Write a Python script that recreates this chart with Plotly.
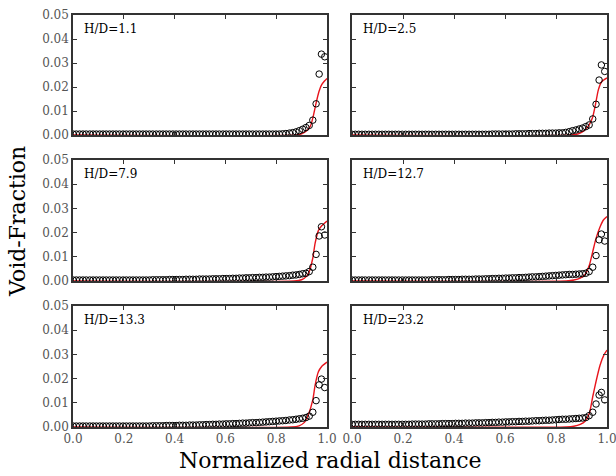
import plotly.graph_objects as go

# ---------------- data ----------------
LABELS = ["H/D=1.1", "H/D=2.5", "H/D=7.9", "H/D=12.7", "H/D=13.3", "H/D=23.2"]

R_DENSE = [0.000, 0.013, 0.026, 0.039, 0.052, 0.066, 0.079, 0.092, 0.105, 0.118, 0.131, 0.144,
           0.157, 0.170, 0.183, 0.197, 0.210, 0.223, 0.236, 0.249, 0.262, 0.275, 0.288, 0.301,
           0.314, 0.328, 0.341, 0.354, 0.367, 0.380, 0.393, 0.406, 0.419, 0.432, 0.445, 0.459,
           0.472, 0.485, 0.498, 0.511, 0.524, 0.537, 0.550, 0.563, 0.576, 0.590, 0.603, 0.616,
           0.629, 0.642, 0.655, 0.668, 0.681, 0.694, 0.707, 0.721, 0.734, 0.747, 0.760, 0.773,
           0.786, 0.799, 0.812, 0.825, 0.838, 0.852, 0.865, 0.878, 0.891, 0.904, 0.917, 0.930]
R_WALL = [0.944, 0.957, 0.969, 0.978, 0.991]
R_EXP = R_DENSE + R_WALL

VF_1_1 = [0.0004, 0.0004, 0.0004, 0.0004, 0.0004, 0.0004, 0.0004, 0.0004, 0.0004, 0.0004, 0.0004, 0.0004,
          0.0004, 0.0004, 0.0004, 0.0004, 0.0004, 0.0004, 0.0004, 0.0004, 0.0004, 0.0004, 0.0004, 0.0004,
          0.0004, 0.0004, 0.0004, 0.0004, 0.0004, 0.0004, 0.0004, 0.0004, 0.0004, 0.0004, 0.0004, 0.0004,
          0.0004, 0.0004, 0.0004, 0.0004, 0.0004, 0.0004, 0.0004, 0.0004, 0.0004, 0.0004, 0.0004, 0.0004,
          0.0004, 0.0004, 0.0004, 0.0004, 0.0004, 0.0004, 0.0004, 0.0004, 0.0004, 0.0004, 0.0004, 0.0004,
          0.0004, 0.0004, 0.0004, 0.0005, 0.0006, 0.0008, 0.0010, 0.0013, 0.0018, 0.0024, 0.0031, 0.0040,
          0.0062, 0.0130, 0.0254, 0.0337, 0.0326]
VF_2_5 = [0.0003, 0.0003, 0.0003, 0.0003, 0.0003, 0.0003, 0.0003, 0.0003, 0.0003, 0.0003, 0.0003, 0.0003,
          0.0003, 0.0003, 0.0003, 0.0003, 0.0003, 0.0003, 0.0003, 0.0003, 0.0003, 0.0003, 0.0003, 0.0003,
          0.0003, 0.0003, 0.0003, 0.0003, 0.0003, 0.0003, 0.0003, 0.0003, 0.0003, 0.0003, 0.0003, 0.0003,
          0.0003, 0.0003, 0.0003, 0.0003, 0.0003, 0.0003, 0.0004, 0.0004, 0.0004, 0.0004, 0.0004, 0.0004,
          0.0004, 0.0005, 0.0005, 0.0005, 0.0005, 0.0006, 0.0006, 0.0006, 0.0007, 0.0007, 0.0007, 0.0008,
          0.0008, 0.0008, 0.0009, 0.0009, 0.0011, 0.0014, 0.0018, 0.0021, 0.0025, 0.0029, 0.0035, 0.0042,
          0.0067, 0.0128, 0.0229, 0.0292, 0.0265]
VF_7_9 = [0.0004, 0.0004, 0.0004, 0.0004, 0.0004, 0.0004, 0.0004, 0.0004, 0.0004, 0.0004, 0.0004, 0.0004,
          0.0004, 0.0004, 0.0004, 0.0004, 0.0004, 0.0004, 0.0004, 0.0004, 0.0004, 0.0004, 0.0004, 0.0004,
          0.0005, 0.0005, 0.0005, 0.0005, 0.0005, 0.0006, 0.0006, 0.0006, 0.0006, 0.0006, 0.0007, 0.0007,
          0.0007, 0.0007, 0.0008, 0.0008, 0.0008, 0.0008, 0.0009, 0.0009, 0.0009, 0.0010, 0.0010, 0.0010,
          0.0011, 0.0011, 0.0012, 0.0012, 0.0013, 0.0013, 0.0014, 0.0014, 0.0015, 0.0015, 0.0016, 0.0016,
          0.0017, 0.0018, 0.0019, 0.0020, 0.0021, 0.0022, 0.0024, 0.0025, 0.0027, 0.0030, 0.0032, 0.0039,
          0.0057, 0.0110, 0.0186, 0.0224, 0.0190]
VF_12_7 = [0.0004, 0.0004, 0.0004, 0.0004, 0.0004, 0.0004, 0.0004, 0.0004, 0.0004, 0.0004, 0.0004, 0.0004,
           0.0004, 0.0004, 0.0004, 0.0004, 0.0004, 0.0004, 0.0004, 0.0004, 0.0004, 0.0004, 0.0004, 0.0004,
           0.0005, 0.0005, 0.0005, 0.0005, 0.0005, 0.0006, 0.0006, 0.0006, 0.0006, 0.0007, 0.0007, 0.0007,
           0.0007, 0.0008, 0.0008, 0.0008, 0.0009, 0.0009, 0.0010, 0.0010, 0.0011, 0.0011, 0.0012, 0.0012,
           0.0013, 0.0013, 0.0014, 0.0014, 0.0015, 0.0016, 0.0017, 0.0017, 0.0018, 0.0019, 0.0020, 0.0021,
           0.0022, 0.0023, 0.0024, 0.0025, 0.0026, 0.0027, 0.0027, 0.0028, 0.0029, 0.0030, 0.0032, 0.0039,
           0.0057, 0.0105, 0.0170, 0.0194, 0.0165]
VF_13_3 = [0.0004, 0.0004, 0.0004, 0.0004, 0.0004, 0.0004, 0.0004, 0.0004, 0.0004, 0.0004, 0.0004, 0.0004,
           0.0004, 0.0004, 0.0004, 0.0004, 0.0004, 0.0004, 0.0004, 0.0004, 0.0004, 0.0004, 0.0004, 0.0004,
           0.0005, 0.0005, 0.0005, 0.0005, 0.0006, 0.0006, 0.0006, 0.0006, 0.0007, 0.0007, 0.0007, 0.0008,
           0.0008, 0.0008, 0.0009, 0.0009, 0.0010, 0.0010, 0.0011, 0.0011, 0.0012, 0.0012, 0.0013, 0.0013,
           0.0014, 0.0014, 0.0015, 0.0016, 0.0016, 0.0017, 0.0018, 0.0018, 0.0019, 0.0020, 0.0021, 0.0022,
           0.0023, 0.0024, 0.0025, 0.0026, 0.0027, 0.0029, 0.0030, 0.0032, 0.0034, 0.0036, 0.0039, 0.0045,
           0.0061, 0.0109, 0.0174, 0.0198, 0.0163]
VF_23_2 = [0.0011, 0.0011, 0.0011, 0.0011, 0.0011, 0.0011, 0.0011, 0.0011, 0.0011, 0.0011, 0.0011, 0.0011,
           0.0011, 0.0011, 0.0011, 0.0011, 0.0011, 0.0011, 0.0012, 0.0012, 0.0012, 0.0012, 0.0012, 0.0013,
           0.0013, 0.0013, 0.0013, 0.0014, 0.0014, 0.0014, 0.0014, 0.0015, 0.0015, 0.0015, 0.0016, 0.0016,
           0.0016, 0.0017, 0.0017, 0.0017, 0.0018, 0.0018, 0.0019, 0.0019, 0.0020, 0.0020, 0.0021, 0.0021,
           0.0022, 0.0022, 0.0023, 0.0023, 0.0024, 0.0024, 0.0025, 0.0026, 0.0026, 0.0027, 0.0028, 0.0028,
           0.0029, 0.0030, 0.0031, 0.0032, 0.0032, 0.0033, 0.0034, 0.0035, 0.0036, 0.0037, 0.0039, 0.0047,
           0.0061, 0.0095, 0.0132, 0.0143, 0.0112]
VF_EXP = [VF_1_1, VF_2_5, VF_7_9, VF_12_7, VF_13_3, VF_23_2]

# model curves (red)
R_M_1_1 = [0.0, 0.88, 0.90, 0.92, 0.935, 0.945, 0.957, 0.968, 0.978, 0.99, 1.0]
VF_M_1_1 = [0.0, 0.0, 0.0005, 0.0018, 0.0038, 0.0075, 0.0133, 0.0180, 0.0208, 0.0225, 0.0236]
R_M_2_5 = [0.0, 0.86, 0.89, 0.91, 0.93, 0.944, 0.955, 0.966, 0.979, 1.0]
VF_M_2_5 = [0.0, 0.0, 0.0006, 0.0018, 0.0042, 0.0075, 0.0128, 0.0188, 0.0222, 0.0238]
R_M_7_9 = [0.0, 0.87, 0.90, 0.92, 0.93, 0.944, 0.953, 0.966, 0.979, 1.0]
VF_M_7_9 = [0.0, 0.0, 0.0005, 0.0020, 0.0039, 0.0095, 0.0155, 0.0208, 0.0228, 0.0248]
R_M_12_7 = [0.0, 0.84, 0.87, 0.895, 0.914, 0.931, 0.944, 0.957, 0.973, 0.986, 1.0]
VF_M_12_7 = [0.0, 0.0, 0.0004, 0.0012, 0.0027, 0.0066, 0.0121, 0.0176, 0.0224, 0.0252, 0.0266]
R_M_13_3 = [0.0, 0.86, 0.89, 0.91, 0.926, 0.944, 0.953, 0.966, 0.979, 1.0]
VF_M_13_3 = [0.0, 0.0, 0.0005, 0.0018, 0.0050, 0.0112, 0.0172, 0.0228, 0.0250, 0.0268]
R_M_23_2 = [0.0, 0.84, 0.87, 0.895, 0.914, 0.931, 0.944, 0.957, 0.973, 0.988, 1.0]
VF_M_23_2 = [0.0, 0.0, 0.0003, 0.0011, 0.0024, 0.0057, 0.0125, 0.0188, 0.0256, 0.0298, 0.0318]
R_MODEL = [R_M_1_1, R_M_2_5, R_M_7_9, R_M_12_7, R_M_13_3, R_M_23_2]
VF_MODEL = [VF_M_1_1, VF_M_2_5, VF_M_7_9, VF_M_12_7, VF_M_13_3, VF_M_23_2]

X_TICKS = [0.0, 0.2, 0.4, 0.6, 0.8, 1.0]
X_TICKTEXT = ["0.0", "0.2", "0.4", "0.6", "0.8", "1.0"]
Y_TICKS = [0.00, 0.01, 0.02, 0.03, 0.04, 0.05]
Y_TICKTEXT = ["0.00", "0.01", "0.02", "0.03", "0.04", "0.05"]

# ---------------- layout ----------------
FONT = "DejaVu Serif"
X_DOMAINS = [[0.0, 0.4757], [0.5225, 1.0]]
Y_DOMAINS = [[0.7087, 1.0], [0.3544, 0.6481], [0.0, 0.2937]]

fig = go.Figure()
layout = dict(
    template="none",
    width=616, height=476,
    margin=dict(l=73, r=9, t=15, b=49, autoexpand=False),
    paper_bgcolor="white", plot_bgcolor="white",
    showlegend=False,
    font=dict(family=FONT, size=12, color="#555"),
    annotations=[],
)

for i in range(6):
    row, col = divmod(i, 2)
    n = i + 1
    xa = "x" if n == 1 else f"x{n}"
    ya = "y" if n == 1 else f"y{n}"
    fig.add_trace(go.Scatter(
        x=R_MODEL[i], y=VF_MODEL[i], mode="lines",
        line=dict(color="#e8141c", width=1.4, shape="spline", smoothing=0.6),
        xaxis=xa, yaxis=ya))
    fig.add_trace(go.Scatter(
        x=R_EXP, y=VF_EXP[i], mode="markers",
        marker=dict(symbol="circle-open", size=6.5, color="black", line=dict(width=1)),
        xaxis=xa, yaxis=ya))
    axstyle = dict(showline=True, mirror="ticks", linecolor="#333", linewidth=1.5,
                   ticks="inside", ticklen=4, tickwidth=1, tickcolor="#333",
                   showgrid=False, zeroline=False, automargin=False,
                   ticklabeloverflow="allow")
    layout["xaxis" if n == 1 else f"xaxis{n}"] = dict(
        domain=X_DOMAINS[col], anchor=ya, range=[0, 1.0],
        tickvals=X_TICKS, ticktext=X_TICKTEXT, showticklabels=(row == 2),
        tickfont=dict(family=FONT, size=12, color="#555"), **axstyle)
    layout["yaxis" if n == 1 else f"yaxis{n}"] = dict(
        domain=Y_DOMAINS[row], anchor=xa, range=[0, 0.05],
        tickvals=Y_TICKS, ticktext=Y_TICKTEXT, showticklabels=(col == 0),
        tickfont=dict(family=FONT, size=12, color="#555"), **axstyle)
    layout["annotations"].append(dict(
        text=LABELS[i], xref=f"{xa} domain", yref=f"{ya} domain",
        x=0.035, y=0.955, xanchor="left", yanchor="top", showarrow=False,
        font=dict(family=FONT, size=12, color="black")))

layout["annotations"].append(dict(
    text="Normalized radial distance", xref="paper", yref="paper",
    x=0.483, y=-0.045, xanchor="center", yanchor="top", showarrow=False,
    font=dict(family=FONT, size=22, color="black")))
layout["annotations"].append(dict(
    text="Void-Fraction", xref="paper", yref="paper", textangle=-90,
    x=-0.105, y=0.5, xanchor="center", yanchor="middle", showarrow=False,
    font=dict(family=FONT, size=22, color="black")))

fig.update_layout(**layout)
fig.write_html("out.html", config={"displayModeBar": False},
               post_script="document.body.style.margin='0';document.body.style.overflow='hidden';")
